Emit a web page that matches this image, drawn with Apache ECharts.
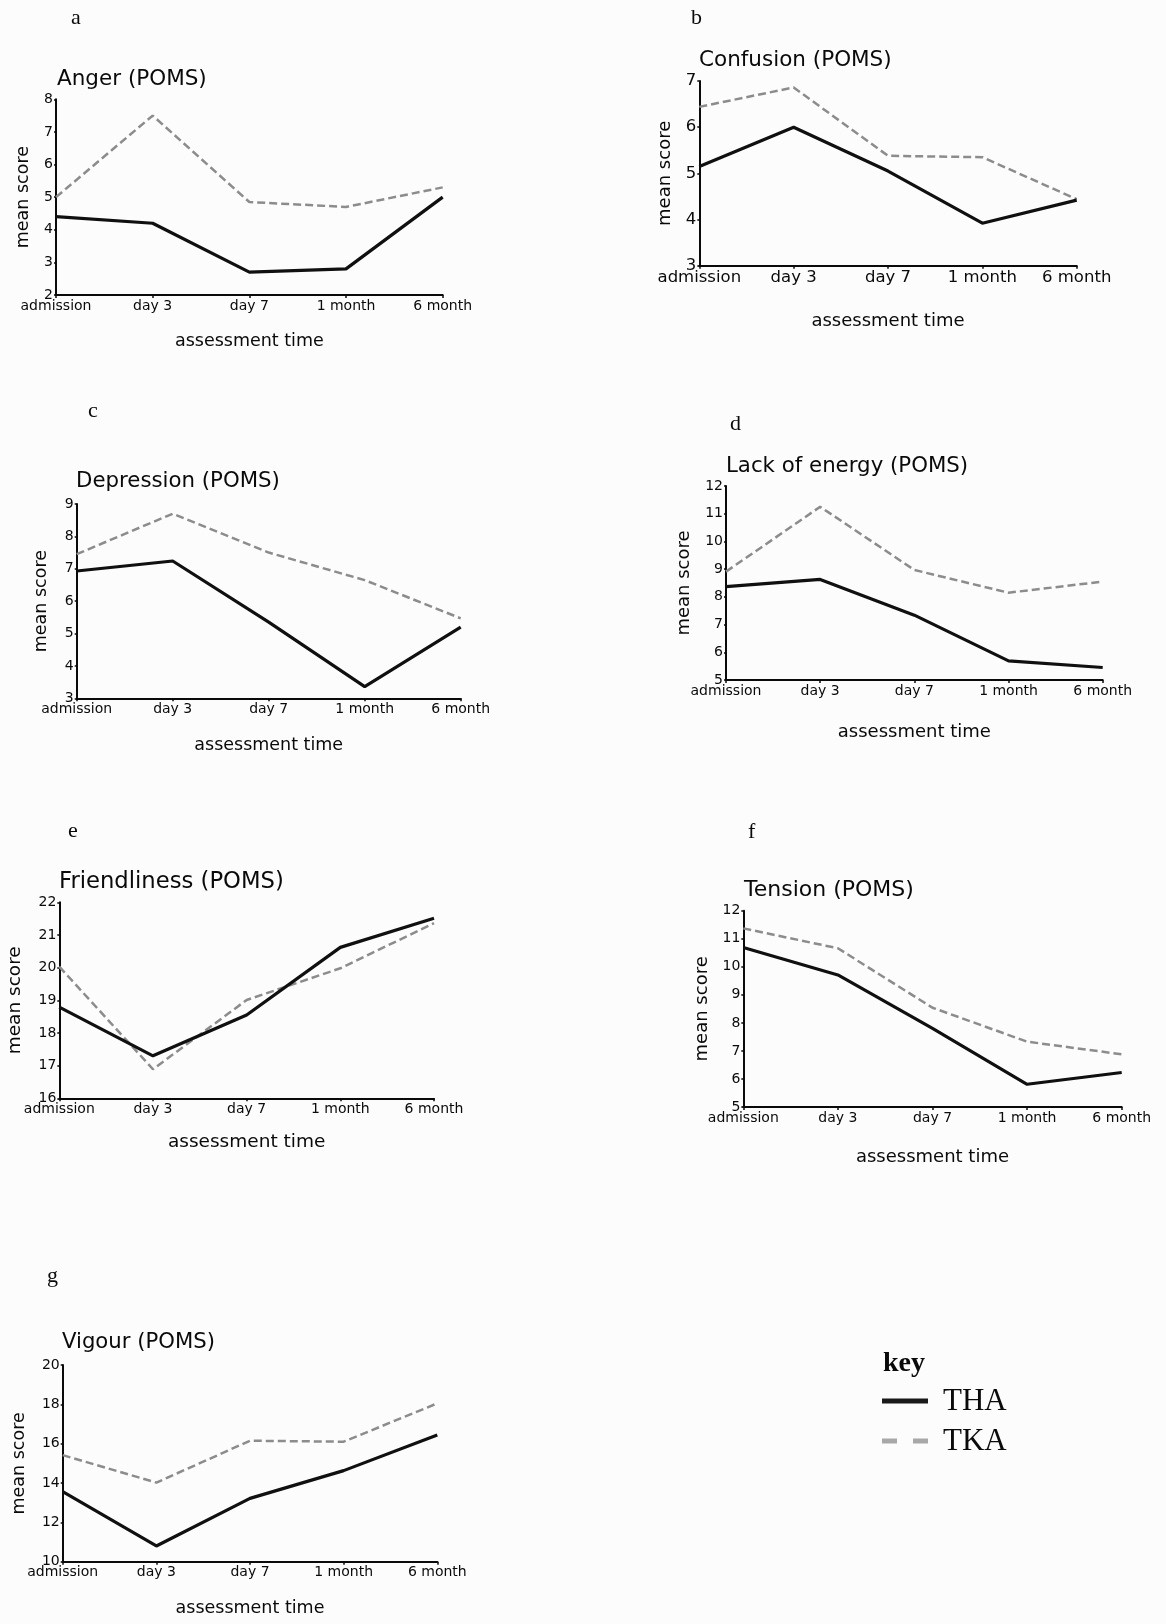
<!DOCTYPE html>
<html>
<head>
<meta charset="utf-8">
<script src="https://cdn.jsdelivr.net/npm/echarts@6/dist/echarts.min.js"></script>
<style>
html,body{margin:0;padding:0;background:#fcfcfc;}
#chart{width:1166px;height:1624px;}
</style>
</head>
<body>
<div id="chart"></div>
<script>
// ---- data ----
const categories = ['admission', 'day 3', 'day 7', '1 month', '6 month'];
const seriesNames = ['THA', 'TKA'];

const angerTHA = [4.4, 4.2, 2.7, 2.8, 5.0];
const angerTKA = [5.0, 7.5, 4.85, 4.7, 5.3];

const confusionTHA = [5.15, 6.0, 5.05, 3.92, 4.42];
const confusionTKA = [6.44, 6.86, 5.38, 5.35, 4.44];

const depressionTHA = [6.93, 7.24, 5.35, 3.36, 5.2];
const depressionTKA = [7.45, 8.7, 7.5, 6.65, 5.47];

const energyTHA = [8.37, 8.63, 7.34, 5.69, 5.45];
const energyTKA = [8.91, 11.25, 8.97, 8.15, 8.55];

const friendTHA = [18.79, 17.3, 18.55, 20.62, 21.51];
const friendTKA = [20.03, 16.89, 19.01, 19.98, 21.36];

const tensionTHA = [10.69, 9.71, 7.8, 5.81, 6.23];
const tensionTKA = [11.37, 10.66, 8.54, 7.33, 6.88];

const vigourTHA = [13.56, 10.8, 13.22, 14.63, 16.44];
const vigourTKA = [15.42, 14.02, 16.15, 16.1, 18.05];

const panelTitles = ['Anger (POMS)', 'Confusion (POMS)', 'Depression (POMS)', 'Lack of energy (POMS)', 'Friendliness (POMS)', 'Tension (POMS)', 'Vigour (POMS)'];
const panelLetters = ['a', 'b', 'c', 'd', 'e', 'f', 'g'];
const yMin = [2, 3, 3, 5, 16, 5, 10];
const yMax = [8, 7, 9, 12, 22, 12, 20];
const yStep = [1, 1, 1, 1, 1, 1, 2];
const xAxisName = 'assessment time';
const yAxisName = 'mean score';

const panelData = [
  [angerTHA, angerTKA],
  [confusionTHA, confusionTKA],
  [depressionTHA, depressionTKA],
  [energyTHA, energyTKA],
  [friendTHA, friendTKA],
  [tensionTHA, tensionTKA],
  [vigourTHA, vigourTKA]
];

// ---- layout (positions / sizes / styles) ----
const layout = [
  {l: 56,    t: 99.3,  w: 386.7, h: 195.7, titleX: 57,  titleY: 68,   titleSize: 21.5, tick: 14, name: 17.5, yGap: 24, xGap: 37, letX: 71,  letY: 18},
  {l: 699.3, t: 81,    w: 377.4, h: 184.7, titleX: 699, titleY: 49,   titleSize: 21.5, tick: 16.5, name: 18, yGap: 25, xGap: 47, letX: 691, letY: 18},
  {l: 76.7,  t: 504,   w: 384,   h: 194.3, titleX: 76,  titleY: 471,  titleSize: 21.3, tick: 14, name: 17.5, yGap: 26, xGap: 38, letX: 88,  letY: 411},
  {l: 726,   t: 486,   w: 376.7, h: 194,   titleX: 726, titleY: 456,  titleSize: 21.3, tick: 14, name: 18, yGap: 33, xGap: 43, letX: 730, letY: 424},
  {l: 59.3,  t: 902.3, w: 374.7, h: 196,   titleX: 59,  titleY: 871,  titleSize: 22.7, tick: 14, name: 18.5, yGap: 35, xGap: 34, letX: 68,  letY: 831},
  {l: 743.3, t: 910.7, w: 378.4, h: 196.3, titleX: 744, titleY: 879,  titleSize: 22, tick: 14, name: 18, yGap: 32, xGap: 41, letX: 748, letY: 832},
  {l: 62.7,  t: 1365,  w: 374.6, h: 196.7, titleX: 62,  titleY: 1332, titleSize: 21.2, tick: 14, name: 17.5, yGap: 34, xGap: 38, letX: 47,  letY: 1276}
];

const SANS = 'DejaVu Sans';
const SERIF = 'Liberation Serif';
const INK = '#0a0a0a';
const THA_COLOR = '#101010';
const TKA_COLOR = '#8c8c8c';

const titles = [], grids = [], xAxes = [], yAxes = [], series = [], graphics = [];

panelData.forEach((pair, i) => {
  const L = layout[i];
  titles.push({
    text: panelTitles[i], left: L.titleX, top: L.titleY, padding: 0,
    textStyle: {fontFamily: SANS, fontSize: L.titleSize, fontWeight: 'normal', color: INK}
  });
  grids.push({left: L.l, top: L.t, width: L.w, height: L.h, containLabel: false});
  xAxes.push({
    type: 'category', gridIndex: i, data: categories, boundaryGap: false,
    name: xAxisName, nameLocation: 'middle', nameGap: L.xGap,
    nameTextStyle: {fontFamily: SANS, fontSize: L.name, color: INK},
    axisLine: {lineStyle: {color: INK, width: 2}},
    axisTick: {show: true, length: 3, lineStyle: {color: INK, width: 1.5}},
    axisLabel: {fontFamily: SANS, fontSize: L.tick, color: INK, margin: 4, interval: 0},
    splitLine: {show: false}
  });
  yAxes.push({
    type: 'value', gridIndex: i, min: yMin[i], max: yMax[i], interval: yStep[i],
    name: yAxisName, nameLocation: 'middle', nameRotate: 90, nameGap: L.yGap,
    nameTextStyle: {fontFamily: SANS, fontSize: L.name, color: INK},
    axisLine: {show: true, lineStyle: {color: INK, width: 2}},
    axisTick: {show: true, length: 2, lineStyle: {color: INK, width: 1.5}},
    axisLabel: {fontFamily: SANS, fontSize: L.tick, color: INK, margin: 3},
    splitLine: {show: false}
  });
  series.push({
    name: seriesNames[0], type: 'line', xAxisIndex: i, yAxisIndex: i, data: pair[0],
    symbol: 'none', smooth: false,
    lineStyle: {color: THA_COLOR, width: 3.2}, itemStyle: {color: THA_COLOR}, z: 3
  });
  series.push({
    name: seriesNames[1], type: 'line', xAxisIndex: i, yAxisIndex: i, data: pair[1],
    symbol: 'none', smooth: false,
    lineStyle: {color: TKA_COLOR, width: 2.5, type: [8, 4]}, itemStyle: {color: TKA_COLOR}, z: 2
  });
  graphics.push({
    type: 'text', x: L.letX, y: L.letY,
    style: {text: panelLetters[i], font: '22px "' + SERIF + '"', fill: INK, textAlign: 'left', textVerticalAlign: 'middle'}
  });
});

// key
graphics.push({
  type: 'text', x: 883, y: 1364,
  style: {text: 'key', font: 'bold 28px "' + SERIF + '"', fill: INK, textAlign: 'left', textVerticalAlign: 'middle'}
});
graphics.push({
  type: 'line', shape: {x1: 882, y1: 1401, x2: 928, y2: 1401},
  style: {stroke: '#1a1a1a', lineWidth: 5}
});
graphics.push({
  type: 'line', shape: {x1: 882, y1: 1441, x2: 928, y2: 1441},
  style: {stroke: '#a8a8a8', lineWidth: 5, lineDash: [15, 16]}
});
graphics.push({
  type: 'text', x: 943, y: 1402,
  style: {text: seriesNames[0], font: '31px "' + SERIF + '"', fill: INK, textAlign: 'left', textVerticalAlign: 'middle'}
});
graphics.push({
  type: 'text', x: 943, y: 1442,
  style: {text: seriesNames[1], font: '31px "' + SERIF + '"', fill: INK, textAlign: 'left', textVerticalAlign: 'middle'}
});

const chart = echarts.init(document.getElementById('chart'), null, {renderer: 'canvas'});
chart.setOption({
  backgroundColor: '#fcfcfc',
  animation: false,
  title: titles,
  grid: grids,
  xAxis: xAxes,
  yAxis: yAxes,
  series: series,
  graphic: graphics
});
</script>
</body>
</html>
